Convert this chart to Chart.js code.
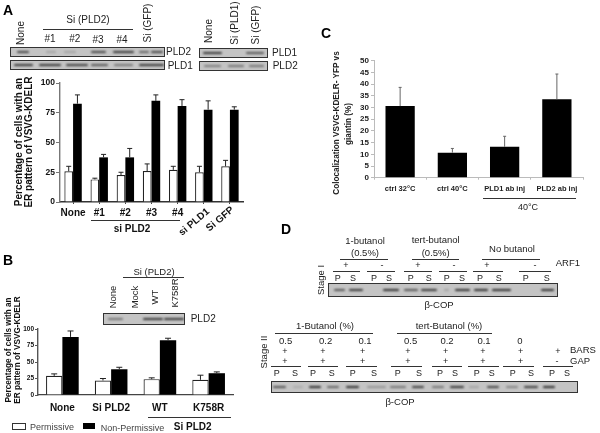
<!DOCTYPE html>
<html>
<head>
<meta charset="utf-8">
<script src="https://cdn.jsdelivr.net/npm/chart.js@4"></script>
<style>
  html, body { margin: 0; background: #fff; }
  #page { position: relative; width: 600px; height: 433px; overflow: hidden; font-family: "Liberation Sans", Arial, sans-serif; color: #222; filter: blur(0.35px); }
  #page canvas { position: absolute; }
  .t { position: absolute; white-space: pre; line-height: 1; }
  .ln { position: absolute; height: 1px; background: #333; }
  .blot { position: absolute; box-sizing: border-box; border: 1px solid #333; background: #c4c4c4; overflow: hidden; }
  .band { position: absolute; height: 2.5px; background: #111; border-radius: 2px; filter: blur(0.8px); }
</style>
</head>
<body>
<div id="page"></div>
<script>
// panel A
const aCategories = ['None', '#1', '#2', '#3', '#4', 'si PLD1', 'Si GFP'];
const aPermissive = [25.8, 19, 22.7, 26, 27, 25, 30];
const aPermissiveErr = [30, 20, 25, 32, 30, 30, 35];
const aNonPermissive = [82.6, 37.5, 37.5, 85, 80.7, 77.6, 77.6];
const aNonPermissiveErr = [90, 40, 45, 90, 86, 85, 80];

// panel B
const bCategories = ['None', 'Si PLD2', 'WT', 'K758R'];
const bPermissive = [29, 22, 24, 23];
const bPermissiveErr = [32, 25, 26, 30];
const bNonPermissive = [88, 39, 83, 33];
const bNonPermissiveErr = [97, 42, 86, 35];

// panel C
const cCategories = ['ctrl 32°C', 'ctrl 40°C', 'PLD1 ab inj', 'PLD2 ab inj'];
const cValues = [30.6, 10.7, 13.2, 33.5];
const cErr = [38.6, 12.5, 17.7, 44.3];

const page = document.getElementById('page');

// upper error bars, the tops come from dataset.errTop
const errorBars = {
  id: 'errorBars',
  afterDatasetsDraw(chart, args, opts) {
    const { ctx } = chart;
    const y = chart.scales.y;
    chart.data.datasets.forEach((ds, i) => {
      chart.getDatasetMeta(i).data.forEach((bar, j) => {
        const top = y.getPixelForValue(ds.errTop[j]);
        ctx.save();
        ctx.strokeStyle = opts.color;
        ctx.lineWidth = 1;
        ctx.beginPath();
        ctx.moveTo(bar.x, bar.y);
        ctx.lineTo(bar.x, top);
        ctx.moveTo(bar.x - opts.cap, top);
        ctx.lineTo(bar.x + opts.cap, top);
        ctx.stroke();
        ctx.restore();
      });
    });
  }
};

function addCanvas(left, top, w, h) {
  const c = document.createElement('canvas');
  c.width = w;
  c.height = h;
  c.style.left = left + 'px';
  c.style.top = top + 'px';
  c.style.width = w + 'px';
  c.style.height = h + 'px';
  page.appendChild(c);
  return c;
}

function pairDatasets(white, whiteErr, black, blackErr, extra) {
  return [
    { label: 'Permissive', data: white, errTop: whiteErr, backgroundColor: '#fff', borderColor: '#222', borderWidth: 1.2, ...extra },
    { label: 'Non-Permissive', data: black, errTop: blackErr, backgroundColor: '#000', borderColor: '#000', borderWidth: 0, ...extra }
  ];
}

function yAxis(width, step, max, font, color, tick) {
  return {
    min: 0, max,
    afterFit: s => { s.width = width; },
    ticks: { stepSize: step, autoSkip: false, font, color: '#111', padding: 1 },
    grid: { drawOnChartArea: false, tickLength: tick, color, tickWidth: 1 },
    border: { color, width: 1.4 }
  };
}

// Panel A, the last two labels are rotated and written separately
new Chart(addCanvas(0, 70, 250, 150), {
  type: 'bar',
  data: {
    labels: aCategories,
    datasets: pairDatasets(aPermissive, aPermissiveErr, aNonPermissive, aNonPermissiveErr,
      { categoryPercentage: 0.666, barPercentage: 1 })
  },
  options: {
    responsive: false, animation: false,
    layout: { padding: { top: 13, right: 7 } },
    plugins: { legend: { display: false }, tooltip: { enabled: false }, errorBars: { color: '#222', cap: 2.5 } },
    scales: {
      x: {
        afterFit: s => { s.height = 18; },
        ticks: {
          autoSkip: false, maxRotation: 0, padding: 3,
          font: { size: 10, weight: 'bold' }, color: '#111',
          callback: (v, i) => (i < 5 ? aCategories[i] : '')
        },
        grid: { offset: false, drawOnChartArea: false, tickLength: 2, color: '#444' },
        border: { color: '#333', width: 1.4 }
      },
      y: yAxis(60, 25, 100, { size: 8.5, weight: 'bold' }, '#777', 4)
    }
  },
  plugins: [errorBars]
});

// Panel B
new Chart(addCanvas(0, 315, 240, 100), {
  type: 'bar',
  data: {
    labels: bCategories,
    datasets: pairDatasets(bPermissive, bPermissiveErr, bNonPermissive, bNonPermissiveErr,
      { categoryPercentage: 0.67, barPercentage: 1 })
  },
  options: {
    responsive: false, animation: false,
    layout: { padding: { top: 14, right: 7 } },
    plugins: { legend: { display: false }, tooltip: { enabled: false }, errorBars: { color: '#222', cap: 3 } },
    scales: {
      x: {
        afterFit: s => { s.height = 20; },
        ticks: { maxRotation: 0, padding: 7, font: { size: 10, weight: 'bold' }, color: '#111' },
        grid: { display: false, drawTicks: false },
        border: { color: '#444', width: 1.2 }
      },
      y: yAxis(38, 25, 100, { size: 6.5, weight: 'bold' }, '#555', 3)
    }
  },
  plugins: [errorBars]
});

// Panel C
new Chart(addCanvas(320, 50, 275, 150), {
  type: 'bar',
  data: {
    labels: cCategories,
    datasets: [{ label: 'Colocalization', data: cValues, errTop: cErr, backgroundColor: '#000', categoryPercentage: 0.56, barPercentage: 1 }]
  },
  options: {
    responsive: false, animation: false,
    layout: { padding: { top: 10.7, right: 12 } },
    plugins: { legend: { display: false }, tooltip: { enabled: false }, errorBars: { color: '#666', cap: 1.5 } },
    scales: {
      x: {
        afterFit: s => { s.height = 22.3; },
        ticks: { maxRotation: 0, padding: 5, font: { size: 7.5, weight: 'bold' }, color: '#222' },
        grid: { drawOnChartArea: false, tickLength: 2, color: '#bbb' },
        border: { color: '#bbb', width: 1 }
      },
      y: {
        min: 0, max: 50,
        afterFit: s => { s.width = 54; },
        ticks: { stepSize: 5, autoSkip: false, padding: 2, font: { size: 8, weight: 'bold' }, color: '#222' },
        grid: { drawOnChartArea: false, tickLength: 3, color: '#bbb' },
        border: { color: '#bbb', width: 1 }
      }
    }
  },
  plugins: [errorBars]
});

// text, rules and blots around the charts
function t(text, x, y, o = {}) {
  const d = document.createElement('div');
  d.className = 't';
  d.textContent = text;
  d.style.left = x + 'px';
  d.style.top = y + 'px';
  d.style.fontSize = (o.size || 9.5) + 'px';
  if (o.bold) d.style.fontWeight = 'bold';
  if (o.color) d.style.color = o.color;
  d.style.transform = (o.left ? 'translate(0,-50%)' : 'translate(-50%,-50%)') + (o.rot ? ` rotate(${o.rot}deg)` : '');
  page.appendChild(d);
}

function ln(x1, x2, y) {
  const d = document.createElement('div');
  d.className = 'ln';
  d.style.left = x1 + 'px';
  d.style.top = y + 'px';
  d.style.width = (x2 - x1) + 'px';
  page.appendChild(d);
}

function blot(x, y, w, h, bands) {
  const d = document.createElement('div');
  d.className = 'blot';
  d.style.cssText = `left:${x}px;top:${y}px;width:${w}px;height:${h}px`;
  bands.forEach(([a, b, dark]) => {
    const s = document.createElement('div');
    s.className = 'band';
    s.style.cssText = `left:${a - x}px;width:${b - a}px;top:${h / 2 - 2.5}px;opacity:${dark * 0.9}`;
    d.appendChild(s);
  });
  page.appendChild(d);
}

// panel letters
t('A', 8, 9.5, { size: 14, bold: true, color: '#000' });
t('B', 8, 260, { size: 14, bold: true, color: '#000' });
t('C', 326, 33, { size: 14, bold: true, color: '#000' });
t('D', 286, 229, { size: 14, bold: true, color: '#000' });

// A: blots and headers
t('None', 21, 33, { rot: -90, size: 10 });
t('Si (PLD2)', 88, 20, { size: 10 });
ln(43, 133, 28.5);
t('#1', 50, 39, { size: 10 });
t('#2', 74.7, 39, { size: 10 });
t('#3', 98, 39.7, { size: 10 });
t('#4', 122, 39.7, { size: 10 });
t('Si (GFP)', 148, 23, { rot: -90, size: 10 });
t('None', 209, 31, { rot: -90, size: 10 });
t('Si (PLD1)', 235, 23, { rot: -90, size: 10 });
t('Si (GFP)', 256, 25, { rot: -90, size: 10 });
blot(10, 47, 155, 10, [[16, 28, .8], [45, 55, .2], [63, 75, .2], [90, 105, .8], [112, 133, .9], [138, 148, .6], [150, 162, .8]]);
blot(10, 60, 155, 10, [[13, 32, .9], [38, 60, .9], [65, 87, .85], [90, 107, .7], [113, 132, .5], [138, 163, .9]]);
blot(199, 48, 69, 10, [[202, 221, .9], [245, 263, .7]]);
blot(199, 61, 69, 10, [[203, 220, .45], [227, 243, .5], [248, 263, .5]]);
t('PLD2', 166, 51.7, { left: true, size: 10 });
t('PLD1', 167.7, 65.7, { left: true, size: 10 });
t('PLD1', 272, 52.7, { left: true, size: 10 });
t('PLD2', 272.7, 65.7, { left: true, size: 10 });

// A: axis title and lower labels
t('Percentage of cells with an', 19, 142, { rot: -90, size: 10, bold: true, color: '#111' });
t('ER pattern of VSVG-KDELR', 28.5, 142, { rot: -90, size: 10, bold: true, color: '#111' });
ln(91, 180, 219.5);
t('si PLD2', 132, 228.7, { size: 10, bold: true, color: '#111' });
t('si PLD1', 194, 222, { size: 10, bold: true, rot: -40, color: '#111' });
t('Si GFP', 220, 219, { size: 10, bold: true, rot: -40, color: '#111' });

// B
t('Si (PLD2)', 154, 272.3, { size: 9.5 });
ln(122.7, 184.3, 277);
t('None', 113.3, 297, { rot: -90, size: 9.5 });
t('Mock', 135, 297, { rot: -90, size: 9.5 });
t('WT', 155, 297, { rot: -90, size: 9.5 });
t('K758R', 175, 292.7, { rot: -90, size: 9.5 });
blot(103, 313, 82, 12, [[107, 122, .5], [142, 162, .9], [163, 183, .9]]);
t('PLD2', 190.7, 319.3, { left: true, size: 10 });
t('Percentage of cells with an', 9, 350, { rot: -90, size: 8.2, bold: true, color: '#111' });
t('ER pattern of VSVG-KDELR', 18.3, 350, { rot: -90, size: 8.2, bold: true, color: '#111' });
ln(147.7, 230.7, 416.5);
t('Si PLD2', 192.7, 427, { size: 10, bold: true, color: '#111' });

// B legend
const keyWhite = document.createElement('div');
keyWhite.style.cssText = 'position:absolute;left:12px;top:423px;width:12px;height:5px;border:1px solid #333;background:#fff';
page.appendChild(keyWhite);
const keyBlack = document.createElement('div');
keyBlack.style.cssText = 'position:absolute;left:83px;top:423px;width:12px;height:6px;background:#000';
page.appendChild(keyBlack);
t('Permissive', 30, 427, { left: true, size: 9, color: '#444' });
t('Non-Permissive', 100.7, 427.5, { left: true, size: 9, color: '#444' });

// C
t('Colocalization VSVG-KDELR- YFP vs', 337.3, 123, { rot: -90, size: 8.2, bold: true });
t('giantin (%)', 349.3, 123.5, { rot: -90, size: 8.2, bold: true });
ln(483.3, 575.7, 197.5);
t('40°C', 528, 206.7, { size: 9 });

// D top
t('1-butanol', 365, 240.7, { size: 9.5 });
t('(0.5%)', 365, 252.7, { size: 9.5 });
ln(340, 388.3, 259);
t('tert-butanol', 435.7, 240, { size: 9.5 });
t('(0.5%)', 435.7, 252.7, { size: 9.5 });
ln(412, 459, 259);
t('No butanol', 512, 249, { size: 9.5 });
ln(481.7, 540, 259);
[[346, '+'], [382, '-'], [418, '+'], [454, '-'], [487, '+'], [535, '-']].forEach(([x, s]) => t(s, x, 264.7, { size: 9 }));
t('ARF1', 555.7, 263, { left: true, size: 9.5 });
[[332.7, 360], [366.7, 395], [404, 432], [439, 466.7], [473, 502.7], [519, 550.7]].forEach(([a, b]) => ln(a, b, 271));
[[337.7, 'P'], [353, 'S'], [374, 'P'], [389, 'S'], [410.7, 'P'], [428.7, 'S'], [446.7, 'P'], [462, 'S'], [480, 'P'], [498.7, 'S'], [525.7, 'P'], [546.7, 'S']]
  .forEach(([x, s]) => t(s, x, 277.7, { size: 9 }));
t('Stage I', 321, 280, { rot: -90, size: 9.5 });
blot(328, 283, 230, 14, [[333, 344, .7], [348, 362, .9], [382, 398, .95], [403, 417, .7], [420, 436, .9], [443, 448, .2], [454, 469, .95], [473, 487, .95], [491, 510, .95], [540, 553, .95]]);
t('β-COP', 439, 305, { size: 9.5 });

// D bottom
t('1-Butanol (%)', 325, 326, { size: 9.5 });
ln(275, 372.7, 332.5);
t('tert-Butanol (%)', 449, 326, { size: 9.5 });
ln(397, 492, 332.5);
[[285.7, '0.5'], [325.7, '0.2'], [365, '0.1'], [410.7, '0.5'], [447, '0.2'], [484, '0.1'], [520, '0']].forEach(([x, s]) => t(s, x, 341, { size: 9.5 }));
[285, 323, 362.7, 408, 445.7, 483, 520.7, 558].forEach(x => t('+', x, 350.7, { size: 9 }));
[285, 323, 362.7, 408, 445.7, 483, 520.7].forEach(x => t('+', x, 360.7, { size: 9 }));
t('-', 557, 360.7, { size: 9 });
t('BARS', 570, 350, { left: true, size: 9.5 });
t('GAP', 570, 360.7, { left: true, size: 9.5 });
[[271, 301], [308, 338], [345.7, 376.7], [391, 421.7], [432, 462], [468, 499], [503, 534], [542.7, 573]].forEach(([a, b]) => ln(a, b, 366));
[[276.7, 'P'], [295, 'S'], [313, 'P'], [331.7, 'S'], [352.7, 'P'], [374, 'S'], [397.7, 'P'], [419, 'S'], [440, 'P'], [455, 'S'], [476.7, 'P'], [491.7, 'S'], [512.7, 'P'], [531, 'S'], [552, 'P'], [567, 'S']]
  .forEach(([x, s]) => t(s, x, 372.7, { size: 9 }));
t('Stage II', 264, 352, { rot: -90, size: 9.5 });
blot(271, 381, 307, 12, [[272, 285, .7], [292, 302, .15], [308, 320, .95], [326, 338, .6], [345, 358, .95], [366, 385, .3], [389, 405, .5], [411, 423, .85], [431, 443, .5], [449, 463, .9], [468, 478, .2], [486, 498, .8], [505, 517, .4], [523, 537, .85], [542, 554, .95]]);
t('β-COP', 400, 401.7, { size: 9.5 });
</script>
</body>
</html>
